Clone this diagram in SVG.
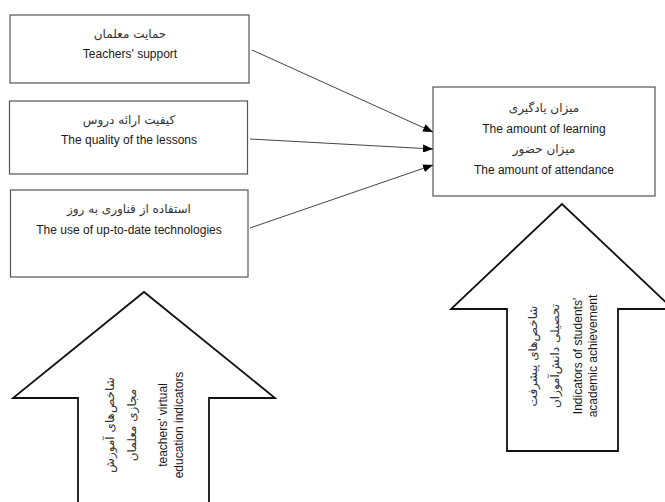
<svg xmlns="http://www.w3.org/2000/svg" width="665" height="502" viewBox="0 0 665 502">
<style>
.box{fill:#fff;stroke:#555;stroke-width:1.2}
.en{font-family:"Liberation Sans",Arial,sans-serif;font-size:12px;fill:#1a1a1a;text-anchor:middle}
.fa{font-family:"DejaVu Sans","Noto Sans",sans-serif;font-size:12px;fill:#333;text-anchor:middle}
.big{fill:#fff;stroke:#111;stroke-width:1.8;stroke-linejoin:miter}
.con{stroke:#444;stroke-width:1;fill:none;marker-end:url(#ah)}
</style>
<defs>
<marker id="ah" markerWidth="10" markerHeight="8" refX="10" refY="4" orient="auto" markerUnits="userSpaceOnUse">
<path d="M0,0 L10,4 L0,8 Z" fill="#000"/>
</marker>
</defs>
<g id="arrow-left">
<path class="big" d="M78,505 L78,398 L13,398 L144,292 L275,398 L209,398 L209,505"/>
<g transform="translate(0,425)">
<text class="fa" transform="translate(114,0) rotate(-90)">شاخص‌های آموزش</text>
<text class="fa" transform="translate(136,0) rotate(-90)">مجازی معلمان</text>
<text class="en" transform="translate(167,0) rotate(-90)">teachers' virtual</text>
<text class="en" transform="translate(183,0) rotate(-90)">education indicators</text>
</g>
</g>
<g id="arrow-right">
<path class="big" d="M507,451 L507,309 L451,309 L562,204 L673,309 L618,309 L618,451 Z"/>
<g transform="translate(0,356)">
<text class="fa" transform="translate(537,0) rotate(-90)">شاخص‌های پیشرفت</text>
<text class="fa" transform="translate(559,0) rotate(-90)">تحصیلی دانش‌آموزان</text>
<text class="en" transform="translate(582,0) rotate(-90)">Indicators of students'</text>
<text class="en" transform="translate(597,0) rotate(-90)">academic achievement</text>
</g>
</g>
<g id="node-support">
<rect class="box" x="10" y="15" width="239" height="68"/>
<text class="fa" x="130" y="38">حمایت معلمان</text>
<text class="en" x="130" y="58">Teachers' support</text>
</g>
<g id="node-quality">
<rect class="box" x="9.5" y="101" width="238" height="73"/>
<text class="fa" x="129" y="124">کیفیت ارائه دروس</text>
<text class="en" x="129" y="144">The quality of the lessons</text>
</g>
<g id="node-tech">
<rect class="box" x="10.5" y="190" width="237.5" height="87"/>
<text class="fa" x="129" y="213">استفاده از فناوری به روز</text>
<text class="en" x="129" y="234">The use of up-to-date technologies</text>
</g>
<g id="node-outcome">
<rect class="box" x="433" y="87" width="222" height="109"/>
<text class="fa" x="544" y="112">میزان یادگیری</text>
<text class="en" x="544" y="133">The amount of learning</text>
<text class="fa" x="544" y="153">میزان حضور</text>
<text class="en" x="544" y="174">The amount of attendance</text>
</g>
<g id="connectors">
<line class="con" x1="252" y1="50" x2="433" y2="132"/>
<line class="con" x1="250" y1="139" x2="433" y2="149"/>
<line class="con" x1="250" y1="228" x2="433" y2="165"/>
</g>
</svg>
